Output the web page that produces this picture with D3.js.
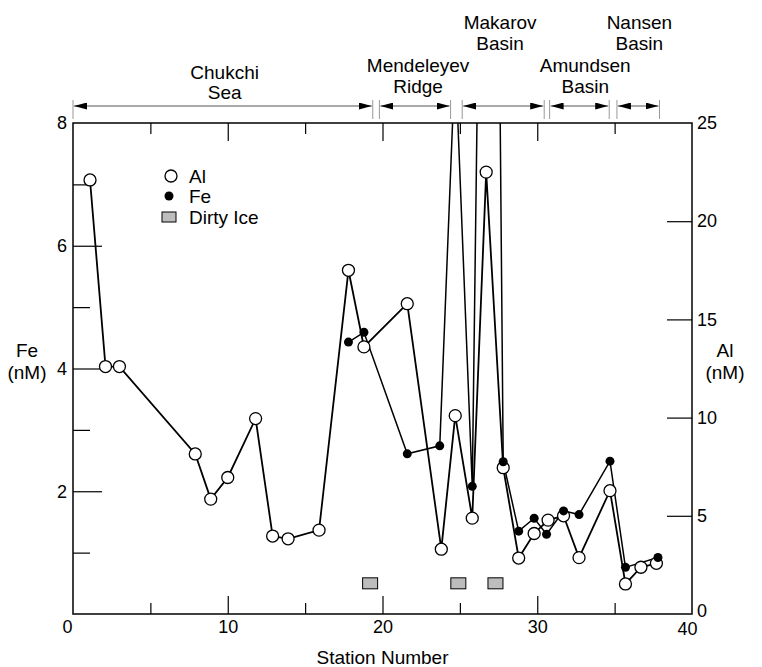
<!DOCTYPE html>
<html lang="en">
<head>
  <meta charset="UTF-8">
  <title>Fe and Al along the transect</title>
  <script src="https://d3js.org/d3.v7.min.js"></script>
  <style>
    body { margin: 0; background: #fff; }
    svg text { font-family: "Liberation Sans", Arial, sans-serif; fill: #000; }
    .frame { fill: none; stroke: #000; stroke-width: 1.5px; }
    .tick line { stroke: #000; stroke-width: 1.2px; }
    .domain { display: none; }
    .al-line { fill: none; stroke: #000; stroke-width: 1.8px; }
    .fe-line { fill: none; stroke: #000; stroke-width: 1.5px; }
  </style>
</head>
<body>
<svg id="chart" width="762" height="667"></svg>
<script>
// Al (open circles, right axis, nM)
const alStation = [1.1, 2.1, 3.0, 7.9, 8.9, 10.0, 11.8, 12.9, 13.9, 15.9, 17.8, 18.8, 21.6, 23.8,
                   24.7, 25.8, 26.7, 27.8, 28.8, 29.8, 30.7, 31.7, 32.7, 34.7, 35.7, 36.7, 37.7];
const alValue   = [22.1, 12.6, 12.6, 8.15, 5.85, 6.95, 9.95, 3.97, 3.83, 4.27, 17.5, 13.6, 15.8, 3.3,
                   10.1, 4.88, 22.5, 7.45, 2.85, 4.1, 4.78, 5.0, 2.87, 6.28, 1.53, 2.38, 2.58];

// Fe (filled circles, left axis, nM) - two values run off the top of the plot
const feStation = [17.8, 18.8, 21.6, 23.7, 24.7, 25.8, 27.0, 27.8, 28.8, 29.8, 30.6, 31.7, 32.7, 34.7, 35.7, 37.8];
const feValue   = [4.43, 4.59, 2.61, 2.74, 9.1, 2.08, 25.4, 2.48, 1.35, 1.56, 1.3, 1.68, 1.62, 2.49, 0.76, 0.92];

// dirty ice stations, drawn at Fe = 0.5
const dirtyIce = [19.2, 24.9, 27.3];
const dirtyIceLevel = 0.5;

// regions along the top
const regionName  = [["Chukchi", "Sea"], ["Mendeleyev", "Ridge"], ["Makarov", "Basin"], ["Amundsen", "Basin"], ["Nansen", "Basin"]];
const regionStart = [0, 19.8, 25.15, 30.8, 35.15];
const regionEnd   = [19.37, 24.4, 30.45, 34.65, 37.9];
const regionLabelAt = [9.8, 22.3, 27.6, 33.1, 36.6];

const xMajor = [0, 10, 20, 30, 40], xMinor = [5, 15, 25, 35];
const feMajor = [2, 4, 6, 8], feMinor = [1, 3, 5, 7];
const alMajor = [0, 5, 10, 15, 20, 25];

const pLeft = 73, pRight = 692, pTop = 123, pBottom = 614;

const svg = d3.select("#chart");
const x = d3.scaleLinear().domain([0, 40]).range([pLeft, pRight]);
const yFe = d3.scaleLinear().domain([0, 8]).range([pBottom, pTop]);
const yAl = d3.scaleLinear().domain([0, 25]).range([pBottom, pTop]);

const defs = svg.append("defs");
defs.append("clipPath").attr("id", "plot")
  .append("rect").attr("x", pLeft).attr("y", pTop).attr("width", pRight - pLeft).attr("height", pBottom - pTop);

// axes (ticks point inward)
svg.append("g").attr("transform", `translate(0,${pBottom})`)
  .call(d3.axisBottom(x).tickValues(xMajor).tickSize(-18).tickPadding(6).tickSizeOuter(0))
  .call(g => g.selectAll("text").attr("font-size", 18))
  .call(g => g.selectAll(".tick").filter(d => d === 0 || d === 40).select("line").remove())
  .call(g => g.selectAll(".tick").filter(d => d === 0).select("text").attr("x", -6))
  .call(g => g.selectAll(".tick").filter(d => d === 40).select("text").attr("x", -5).attr("y", 8));
svg.append("g").attr("transform", `translate(0,${pBottom})`)
  .call(d3.axisBottom(x).tickValues(xMinor).tickSize(-11).tickFormat("").tickSizeOuter(0));
svg.append("g").attr("transform", `translate(0,${pTop})`)
  .call(d3.axisTop(x).tickValues([10, 20, 30]).tickSize(-18).tickFormat("").tickSizeOuter(0));
svg.append("g").attr("transform", `translate(0,${pTop})`)
  .call(d3.axisTop(x).tickValues(xMinor).tickSize(-11).tickFormat("").tickSizeOuter(0));

svg.append("g").attr("transform", `translate(${pLeft},0)`)
  .call(d3.axisLeft(yFe).tickValues(feMajor).tickSize(-29).tickPadding(6).tickSizeOuter(0))
  .call(g => g.selectAll("text").attr("font-size", 18))
  .call(g => g.selectAll(".tick").filter(d => d === 8).select("line").remove());
svg.append("g").attr("transform", `translate(${pLeft},0)`)
  .call(d3.axisLeft(yFe).tickValues(feMinor).tickSize(-17).tickFormat("").tickSizeOuter(0));

svg.append("g").attr("transform", `translate(${pRight},0)`)
  .call(d3.axisRight(yAl).tickValues(alMajor).tickSize(-25).tickPadding(5).tickSizeOuter(0))
  .call(g => g.selectAll("text").attr("font-size", 18))
  .call(g => g.selectAll(".tick").filter(d => d === 0 || d === 25).select("line").remove())
  .call(g => g.selectAll(".tick").filter(d => d === 0).select("text").attr("y", -3));

svg.append("rect").attr("class", "frame")
  .attr("x", pLeft).attr("y", pTop).attr("width", pRight - pLeft).attr("height", pBottom - pTop);

// axis titles
svg.append("text").attr("x", (pLeft + pRight) / 2).attr("y", 664).attr("text-anchor", "middle")
  .attr("font-size", 19).text("Station Number");
[["Fe", 27], ["Al", 725]].forEach(([name, cx]) => {
  const t = svg.append("text").attr("text-anchor", "middle").attr("font-size", 19);
  t.append("tspan").attr("x", cx).attr("y", 357).text(name);
  t.append("tspan").attr("x", cx).attr("y", 379).text("(nM)");
});

// region bars and arrows
const marker = defs.append("marker").attr("id", "head")
  .attr("viewBox", "0 0 13 7").attr("refX", 13).attr("refY", 3.5)
  .attr("markerUnits", "userSpaceOnUse").attr("markerWidth", 13).attr("markerHeight", 7)
  .attr("orient", "auto-start-reverse");
marker.append("path").attr("d", "M0,0L13,3.5L0,7Z").attr("fill", "#000");

const arrowY = 106;
const baselines = [[79, 99], [72, 93], [29, 50], [72, 93], [29, 50]];
regionName.forEach((name, i) => {
  const x0 = x(regionStart[i]), x1 = x(regionEnd[i]);
  [x0, x1].forEach(bx => svg.append("line").attr("x1", bx).attr("x2", bx)
    .attr("y1", 100).attr("y2", 119).attr("stroke", "#999").attr("stroke-width", 1));
  svg.append("line").attr("x1", x0 + 1).attr("x2", x1 - 1).attr("y1", arrowY).attr("y2", arrowY)
    .attr("stroke", "#555").attr("stroke-width", 1)
    .attr("marker-start", "url(#head)").attr("marker-end", "url(#head)");
  const t = svg.append("text").attr("text-anchor", "middle").attr("font-size", 19);
  name.forEach((line, j) => t.append("tspan").attr("x", x(regionLabelAt[i])).attr("y", baselines[i][j]).text(line));
});

// lines
const plot = svg.append("g").attr("clip-path", "url(#plot)");
const feLine = d3.line().x((d, i) => x(feStation[i])).y(d => yFe(d));
const alLine = d3.line().x((d, i) => x(alStation[i])).y(d => yAl(d));
plot.append("path").attr("class", "fe-line").attr("d", feLine(feValue));
plot.append("path").attr("class", "al-line").attr("d", alLine(alValue));

// dirty ice
svg.append("g").selectAll("rect").data(dirtyIce).join("rect")
  .attr("x", d => x(d) - 7.5).attr("y", yFe(dirtyIceLevel) - 5.5)
  .attr("width", 15).attr("height", 11)
  .attr("fill", "#bdbdbd").attr("stroke", "#000").attr("stroke-width", 1);

// points
plot.append("g").selectAll("circle").data(alValue).join("circle")
  .attr("cx", (d, i) => x(alStation[i])).attr("cy", d => yAl(d)).attr("r", 6)
  .attr("fill", "#fff").attr("stroke", "#000").attr("stroke-width", 1.3);
plot.append("g").selectAll("circle").data(feValue).join("circle")
  .attr("cx", (d, i) => x(feStation[i])).attr("cy", d => yFe(d)).attr("r", 4.5)
  .attr("fill", "#000");

// legend
const lg = svg.append("g").attr("font-size", 19);
lg.append("circle").attr("cx", 171).attr("cy", 176).attr("r", 6)
  .attr("fill", "#fff").attr("stroke", "#000").attr("stroke-width", 1.3);
lg.append("text").attr("x", 189).attr("y", 183).text("Al");
lg.append("circle").attr("cx", 169).attr("cy", 196).attr("r", 4.5).attr("fill", "#000");
lg.append("text").attr("x", 189).attr("y", 203).text("Fe");
lg.append("rect").attr("x", 162).attr("y", 212).attr("width", 14).attr("height", 10)
  .attr("fill", "#bdbdbd").attr("stroke", "#000").attr("stroke-width", 1);
lg.append("text").attr("x", 189).attr("y", 224).text("Dirty Ice");
</script>
</body>
</html>
